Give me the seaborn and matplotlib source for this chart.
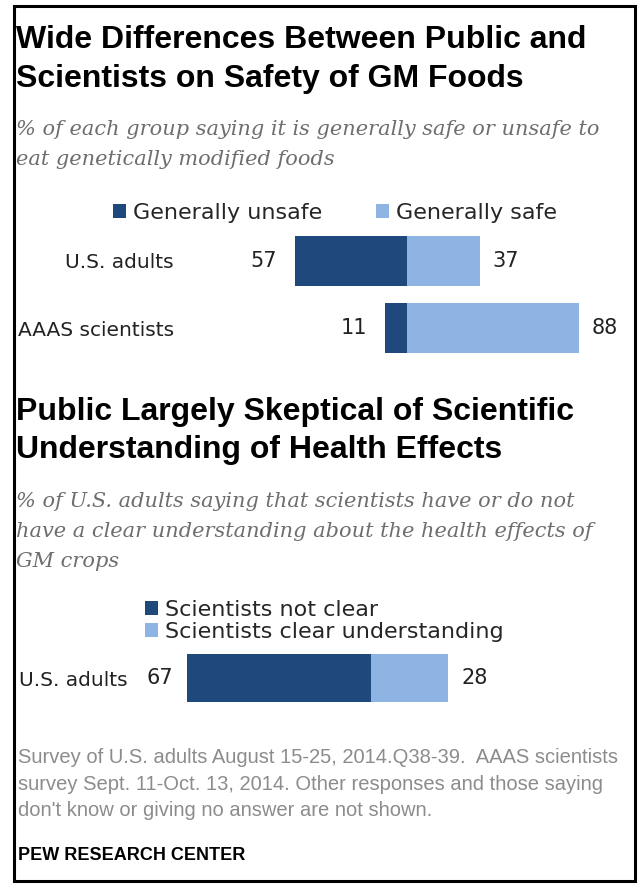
import matplotlib
matplotlib.use("Agg")
import numpy as np
import pandas as pd
import matplotlib.pyplot as plt
import seaborn as sns
from matplotlib.patches import Rectangle

# Chart 1: safety of GM foods
groups = ["U.S. adults", "AAAS scientists"]
unsafe = [57, 11]
safe = [37, 88]
safety_labels = ["Generally unsafe", "Generally safe"]

# Chart 2: scientists' understanding of health effects
understanding_groups = ["U.S. adults"]
not_clear = [67]
clear_und = [28]
understanding_labels = ["Scientists not clear", "Scientists clear understanding"]

DARK = "#1f497d"
LIGHT = "#8eb4e3"
W, H = 641, 886

sns.set_theme(style="white")
plt.rcParams["font.family"] = ["DejaVu Sans"]

fig = plt.figure(figsize=(W / 100, H / 100), dpi=100)
fig.patch.set_facecolor("white")


def box(left, top, width, height):
	# pixel box (from top-left) -> figure fraction
	return [left / W, 1 - (top + height) / H, width / W, height / H]


def fy(y):
	return 1 - y / H


title_kw = dict(fontfamily="Liberation Sans", fontweight="bold", fontsize=23, color="black", va="baseline")
sub_kw = dict(fontfamily="DejaVu Serif", fontstyle="italic", fontsize=15, color="#6e6e6e", va="baseline")
note_kw = dict(fontfamily="Liberation Sans", fontsize=14.5, color="#8c8c8c", va="baseline")

# Titles / subtitles
fig.text(16 / W, fy(48), "Wide Differences Between Public and", **title_kw)
fig.text(16 / W, fy(87), "Scientists on Safety of GM Foods", **title_kw)
fig.text(16 / W, fy(135), "% of each group saying it is generally safe or unsafe to", **sub_kw)
fig.text(16 / W, fy(165), "eat genetically modified foods", **sub_kw)

fig.text(16 / W, fy(420), "Public Largely Skeptical of Scientific", **title_kw)
fig.text(16 / W, fy(458), "Understanding of Health Effects", **title_kw)
fig.text(16 / W, fy(507), "% of U.S. adults saying that scientists have or do not", **sub_kw)
fig.text(16 / W, fy(537), "have a clear understanding about the health effects of", **sub_kw)
fig.text(16 / W, fy(567), "GM crops", **sub_kw)

# Chart 1 (diverging bars, zero at px 407, 1.96 px per point)
df1 = pd.DataFrame({"group": groups, "unsafe": [-v for v in unsafe], "safe": safe})
ax1 = fig.add_axes(box(184, 227.5, 436, 134))
sns.barplot(data=df1, x="unsafe", y="group", orient="h", color=DARK, saturation=1,
			width=0.75, linewidth=0, label=safety_labels[0], ax=ax1)
sns.barplot(data=df1, x="safe", y="group", orient="h", color=LIGHT, saturation=1,
			width=0.75, linewidth=0, label=safety_labels[1], ax=ax1)
ax1.set_xlim((184 - 407) / 1.96, (620 - 407) / 1.96)
ax1.set_ylim(1.5, -0.5)
# padding is in points (px * 0.72)
ax1.bar_label(ax1.containers[0], labels=unsafe, padding=13.5, fontsize=15, color="#222222")
ax1.bar_label(ax1.containers[1], labels=safe, padding=9, fontsize=15, color="#222222")
ax1.legend(loc="center left", bbox_to_anchor=(113 / W, fy(213)), bbox_transform=fig.transFigure,
		   ncol=2, frameon=False, borderpad=0, borderaxespad=0, fontsize=16,
		   handlelength=0.6, handleheight=0.6, handletextpad=0.3, columnspacing=2.4)

# Chart 2 (zero at px 371, 2.74 px per point)
df2 = pd.DataFrame({"group": understanding_groups, "not_clear": [-v for v in not_clear], "clear": clear_und})
ax2 = fig.add_axes(box(138, 644.5, 482, 67))
sns.barplot(data=df2, x="not_clear", y="group", orient="h", color=DARK, saturation=1,
			width=0.73, linewidth=0, label=understanding_labels[0], ax=ax2)
sns.barplot(data=df2, x="clear", y="group", orient="h", color=LIGHT, saturation=1,
			width=0.73, linewidth=0, label=understanding_labels[1], ax=ax2)
ax2.set_xlim((138 - 371) / 2.74, (620 - 371) / 2.74)
ax2.set_ylim(0.5, -0.5)
ax2.bar_label(ax2.containers[0], labels=not_clear, padding=10.5, fontsize=15, color="#222222")
ax2.bar_label(ax2.containers[1], labels=clear_und, padding=10, fontsize=15, color="#222222")
ax2.legend(loc="center left", bbox_to_anchor=(145 / W, fy(621)), bbox_transform=fig.transFigure,
		   ncol=1, frameon=False, borderpad=0, borderaxespad=0, fontsize=16, labelspacing=0.1,
		   handlelength=0.6, handleheight=0.6, handletextpad=0.3)

for ax in (ax1, ax2):
	sns.despine(ax=ax, left=True, bottom=True)
	ax.patch.set_visible(False)
	ax.set_xticks([])
	ax.set_xlabel("")
	ax.set_ylabel("")
	ax.tick_params(axis="y", length=0, pad=7.2, labelsize=14.5, labelcolor="#222222")

# Notes
fig.text(18 / W, fy(763), "Survey of U.S. adults August 15-25, 2014.Q38-39.  AAAS scientists", **note_kw)
fig.text(18 / W, fy(790), "survey Sept. 11-Oct. 13, 2014. Other responses and those saying", **note_kw)
fig.text(18 / W, fy(816), "don't know or giving no answer are not shown.", **note_kw)
fig.text(18 / W, fy(860), "PEW RESEARCH CENTER", fontfamily="Liberation Sans", fontweight="bold",
		 fontsize=13, color="black", va="baseline")

# frame around the whole graphic
fig.add_artist(Rectangle((13.5 / W, fy(881)), (635 - 13.5) / W, (881 - 5.5) / H,
						 transform=fig.transFigure, fill=False, lw=2.2, ec="black"))

fig.savefig("out.png", dpi=100)
